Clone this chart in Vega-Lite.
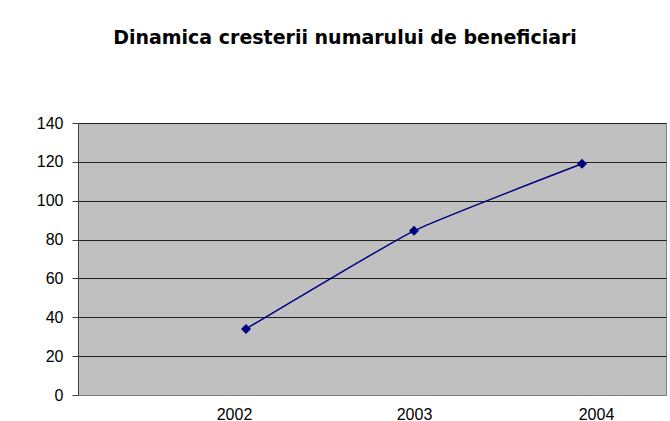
{
  "$schema": "https://vega.github.io/schema/vega-lite/v6.json",
  "width": 588,
  "height": 272,
  "autosize": {"type": "none"},
  "padding": {"left": 78, "top": 123, "right": 4, "bottom": 26},
  "background": "white",
  "title": {
    "text": "Dinamica cresterii numarului de beneficiari",
    "font": "DejaVu Sans",
    "fontSize": 19,
    "fontWeight": "bold",
    "color": "black",
    "anchor": "middle",
    "dx": -27,
    "baseline": "alphabetic",
    "offset": 52
  },
  "config": {
    "view": {"fill": "#C0C0C0", "stroke": "#808080", "strokeWidth": 1},
    "axis": {"labelFont": "Liberation Sans", "labelFontSize": 16, "labelColor": "black", "titleFont": "Liberation Sans"}
  },
  "data": {
    "values": [
      {"an": 2002, "beneficiari": 34},
      {"an": 2003, "beneficiari": 84.5},
      {"an": 2004, "beneficiari": 119}
    ]
  },
  "encoding": {
    "x": {
      "field": "an",
      "type": "quantitative",
      "scale": {"domain": [2001, 2004.5], "nice": false, "zero": false},
      "axis": {
        "title": null,
        "values": [2002, 2003, 2004],
        "format": "d",
        "grid": false,
        "ticks": false,
        "domain": true,
        "domainColor": "#808080",
        "labelPadding": 11,
        "labelOffset": {"condition": [{"test": "datum.value == 2002", "value": -12}, {"test": "datum.value == 2004", "value": 14}], "value": 0}
      }
    },
    "y": {
      "field": "beneficiari",
      "type": "quantitative",
      "scale": {"domain": [0, 140], "nice": false},
      "axis": {
        "title": null,
        "values": [0, 20, 40, 60, 80, 100, 120, 140],
        "grid": true,
        "gridColor": "#202020",
        "gridWidth": 1,
        "gridOpacity": 1,
        "ticks": true,
        "tickSize": 6,
        "tickColor": "#404040",
        "domain": true,
        "domainColor": "#404040",
        "labelPadding": 9
      }
    }
  },
  "layer": [
    {"mark": {"type": "line", "color": "#000080", "strokeWidth": 1.5, "interpolate": "cardinal", "tension": 0.6}},
    {"mark": {"type": "point", "shape": "diamond", "filled": true, "color": "#000080", "opacity": 1, "size": 100}}
  ]
}
